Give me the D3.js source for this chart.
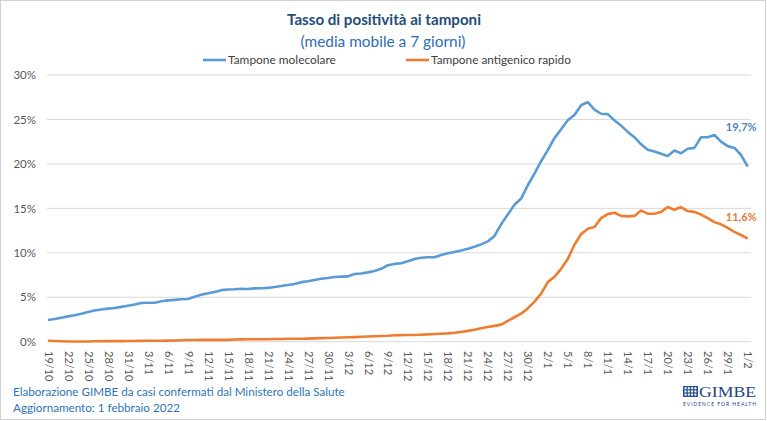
<!DOCTYPE html>
<html>
<head>
<meta charset="utf-8">
<script src="https://cdn.jsdelivr.net/npm/d3@7"></script>
<style>
    body { margin: 0; background: #fff; }
    svg { display: block; font-family: Lato, "Open Sans", sans-serif; }
</style>
</head>
<body>
<div id="chart"></div>
<script>
// one point per day, 19/10/2021 -> 1/2/2022
const days = d3.timeDay.range(new Date(2021, 9, 19), new Date(2022, 1, 2));

const molecolare = [
    2.44, 2.55, 2.7, 2.85, 2.98, 3.15, 3.35, 3.5, 3.62, 3.72,
    3.8, 3.92, 4.05, 4.18, 4.35, 4.38, 4.38, 4.55, 4.65, 4.7,
    4.77, 4.8, 5.05, 5.28, 5.45, 5.6, 5.8, 5.87, 5.9, 5.95,
    5.92, 6.0, 6.02, 6.05, 6.15, 6.27, 6.38, 6.5, 6.7, 6.8,
    6.95, 7.08, 7.17, 7.28, 7.32, 7.35, 7.62, 7.68, 7.8, 7.95,
    8.2, 8.6, 8.75, 8.82, 9.05, 9.3, 9.45, 9.5, 9.5, 9.75,
    9.95, 10.1, 10.25, 10.45, 10.68, 10.95, 11.28, 11.9, 13.2, 14.3,
    15.4, 16.1, 17.6, 18.9, 20.3, 21.55, 22.9, 23.9, 24.9, 25.5,
    26.6, 26.95, 26.1, 25.64, 25.6, 24.9, 24.3, 23.6, 23.0, 22.2,
    21.6, 21.4, 21.15, 20.9, 21.5, 21.2, 21.7, 21.8, 23.0, 23.0,
    23.25, 22.5, 22.0, 21.8, 21.0, 19.7
];

const antigenico = [
    0.1, 0.08, 0.05, 0.03, 0.03, 0.03, 0.03, 0.05, 0.05, 0.06,
    0.06, 0.07, 0.08, 0.08, 0.09, 0.1, 0.1, 0.11, 0.12, 0.14,
    0.17, 0.19, 0.19, 0.2, 0.2, 0.2, 0.2, 0.21, 0.24, 0.26,
    0.27, 0.27, 0.28, 0.28, 0.3, 0.31, 0.33, 0.34, 0.34, 0.35,
    0.37, 0.4, 0.42, 0.45, 0.47, 0.5, 0.52, 0.55, 0.58, 0.61,
    0.64, 0.67, 0.72, 0.74, 0.75, 0.76, 0.79, 0.82, 0.86, 0.9,
    0.94, 1.0, 1.1, 1.22, 1.35, 1.52, 1.65, 1.78, 1.92, 2.35,
    2.75, 3.15, 3.75, 4.5, 5.4, 6.7, 7.3, 8.2, 9.3, 10.9,
    12.1, 12.7, 12.9, 13.9, 14.35, 14.5, 14.15, 14.1, 14.15, 14.75,
    14.4, 14.4, 14.6, 15.15, 14.85, 15.15, 14.7, 14.6, 14.3, 13.9,
    13.45, 13.2, 12.8, 12.35, 12.0, 11.6
];

const seriesNames = ['Tampone molecolare', 'Tampone antigenico rapido'];
const lineColors = ['#5B9BD5', '#ED7D31'];
const labelColors = ['#4F7FBF', '#E07B39'];
const yTicks = [0, 5, 10, 15, 20, 25, 30];
const tickDays = days.filter((d, i) => i % 3 === 0);

const width = 767, height = 421;

const svg = d3.select('#chart').append('svg')
    .attr('width', width)
    .attr('height', height);

svg.append('rect')
    .attr('x', 0.5).attr('y', 0.5)
    .attr('width', width - 2).attr('height', height - 2)
    .attr('fill', '#fff')
    .attr('stroke', '#D0D0D0');

// scale a text's font size so it covers the wanted width
function fit(sel, w) {
    const len = sel.node().getComputedTextLength();
    const fs = parseFloat(sel.attr('font-size'));
    sel.attr('font-size', (fs * w / len).toFixed(2));
    return sel;
}

const x = d3.scaleTime()
    .domain(d3.extent(days))
    .range([48, 747.7]);

const y = d3.scaleLinear()
    .domain([0, 30])
    .range([341.7, 75]);

// gridlines
svg.append('g')
    .selectAll('line')
    .data(yTicks)
    .join('line')
    .attr('x1', 47).attr('x2', 751)
    .attr('y1', d => y(d)).attr('y2', d => y(d))
    .attr('stroke', '#D9D9D9')
    .attr('stroke-width', 1);

// y axis labels
const yAxis = svg.append('g')
    .attr('transform', 'translate(36,0)')
    .call(d3.axisLeft(y).tickValues(yTicks).tickSize(0).tickPadding(0).tickFormat(d => d + '%'));
yAxis.select('.domain').remove();
yAxis.selectAll('text')
    .attr('fill', '#595959')
    .style('font-family', 'Lato, sans-serif')
    .style('font-size', '11.5px');

// x axis labels, vertical
const xAxis = svg.append('g')
    .attr('transform', 'translate(0,351)')
    .call(d3.axisBottom(x).tickValues(tickDays).tickSize(0).tickFormat(d3.timeFormat('%-d/%-m')));
xAxis.select('.domain').remove();
xAxis.selectAll('text')
    .attr('fill', '#595959')
    .attr('transform', 'rotate(90)')
    .attr('x', 0).attr('y', 0)
    .attr('dy', '0.35em')
    .style('text-anchor', 'start')
    .style('font-family', 'Lato, sans-serif')
    .style('font-size', '11px');

// lines
const line = d3.line()
    .x((d, i) => x(days[i]))
    .y(d => y(d));

[molecolare, antigenico].forEach((values, k) => {
    svg.append('path')
        .datum(values)
        .attr('fill', 'none')
        .attr('stroke', lineColors[k])
        .attr('stroke-width', 2.6)
        .attr('stroke-linejoin', 'round')
        .attr('d', line);
});

// end labels
const last = days.length - 1;
[[molecolare, -36], [antigenico, -18]].forEach(([values, dy], k) => {
    fit(svg.append('text')
        .attr('x', x(days[last]) + 9)
        .attr('y', y(values[last]) + dy)
        .attr('text-anchor', 'end')
        .attr('font-size', 12)
        .attr('font-weight', 'bold')
        .attr('fill', labelColors[k])
        .text(d3.format('.1f')(values[last]).replace('.', ',') + '%'), 31);
});

// title
fit(svg.append('text')
    .attr('x', 384).attr('y', 25)
    .attr('text-anchor', 'middle')
    .attr('font-size', 16)
    .attr('font-weight', 'bold')
    .attr('fill', '#1F4E79')
    .text('Tasso di positività ai tamponi'), 194);

fit(svg.append('text')
    .attr('x', 383).attr('y', 47)
    .attr('text-anchor', 'middle')
    .attr('font-size', 15)
    .attr('fill', '#2E6DB4')
    .text('(media mobile a 7 giorni)'), 165);

// legend
const legendPos = [[203, 228, 108], [406, 431, 140]];
seriesNames.forEach((name, k) => {
    const [lx, tx, tw] = legendPos[k];
    svg.append('line')
        .attr('x1', lx).attr('x2', lx + 23)
        .attr('y1', 60).attr('y2', 60)
        .attr('stroke', lineColors[k])
        .attr('stroke-width', 2.6);
    fit(svg.append('text')
        .attr('x', tx).attr('y', 64)
        .attr('font-size', 12)
        .attr('fill', '#404040')
        .text(name), tw);
});

// footer
fit(svg.append('text')
    .attr('x', 13).attr('y', 396)
    .attr('font-size', 12)
    .attr('fill', '#2E74B5')
    .text('Elaborazione GIMBE da casi confermati dal Ministero della Salute'), 332);

fit(svg.append('text')
    .attr('x', 13).attr('y', 412)
    .attr('font-size', 12)
    .attr('fill', '#2E74B5')
    .text('Aggiornamento: 1 febbraio 2022'), 167);

// GIMBE logo
const logo = svg.append('g').attr('transform', 'translate(683,386)');
logo.append('rect')
    .attr('width', 15).attr('height', 11)
    .attr('fill', '#2A4F8F');
logo.append('g')
    .selectAll('rect')
    .data(d3.range(12))
    .join('rect')
    .attr('x', d => 1.5 + (d % 4) * 3.3)
    .attr('y', d => 1.2 + Math.floor(d / 4) * 3.2)
    .attr('width', 2).attr('height', 2)
    .attr('fill', '#fff');
logo.append('text')
    .attr('x', 16).attr('y', 11)
    .attr('font-family', '"Liberation Serif", serif')
    .attr('font-size', 15)
    .attr('fill', '#24457F')
    .attr('textLength', 57)
    .attr('lengthAdjust', 'spacingAndGlyphs')
    .text('GIMBE');
logo.append('text')
    .attr('x', 0).attr('y', 19.5)
    .attr('font-size', 5)
    .attr('fill', '#24457F')
    .attr('textLength', 73)
    .attr('lengthAdjust', 'spacing')
    .text('EVIDENCE FOR HEALTH');
</script>
</body>
</html>
